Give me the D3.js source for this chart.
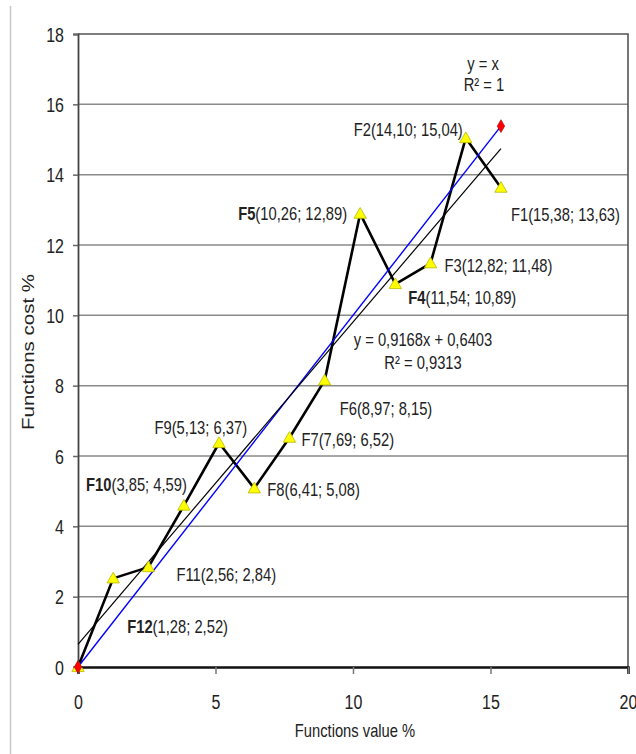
<!DOCTYPE html>
<html>
<head>
<meta charset="utf-8">
<script src="https://cdn.jsdelivr.net/npm/d3@7"></script>
<style>
  html, body { margin: 0; padding: 0; background: #fff; }
  svg { display: block; }
  text { font-family: "Liberation Sans", Arial, sans-serif; fill: #222; }
</style>
</head>
<body>
<svg id="chart" width="636" height="754"></svg>
<script>
// Functions: share of value (x) and share of cost (y), in percent
const functionNames = ["F1", "F2", "F3", "F4", "F5", "F6", "F7", "F8", "F9", "F10", "F11", "F12"];
const functionValue = [15.38, 14.10, 12.82, 11.54, 10.26, 8.97, 7.69, 6.41, 5.13, 3.85, 2.56, 1.28];
const functionCost  = [13.63, 15.04, 11.48, 10.89, 12.89, 8.15, 6.52, 5.08, 6.37, 4.59, 2.84, 2.52];
const boldNames = ["F4", "F5", "F10", "F12"];

// Linear trend of cost on value, and the ideal line y = x
const trendSlope = 0.9168;
const trendIntercept = 0.6403;
const trendR2 = 0.9313;
const idealEnd = 15.38;

const yTicks = [0, 2, 4, 6, 8, 10, 12, 14, 16, 18];
const xTicks = [0, 5, 10, 15, 20];

// Label placement relative to each point: [dx, dy, anchor]
const labelPlacement = {
  F1: [10, 27, "start"], F2: [-3, -8, "end"], F3: [14, 2, "start"], F4: [13, 14, "start"],
  F5: [-13, 0, "end"], F6: [15, 28, "start"], F7: [12, 2, "start"], F8: [13, 1, "start"],
  F9: [28, -15, "end"], F10: [3, -21, "end"], F11: [28, 8, "start"], F12: [14, 48, "start"]
};

const locale = d3.formatLocale({ decimal: ",", thousands: " ", grouping: [3], currency: ["", ""] });
const fmt2 = locale.format(".2f");
const fmt4 = locale.format(".4f");

// condensed lettering: regular face squeezed horizontally
const NARROW = 0.82;

const svg = d3.select("#chart");
const plot = { left: 78, right: 628, top: 34, bottom: 667 };

const x = d3.scaleLinear().domain([0, 20]).range([plot.left, plot.right]);
const y = d3.scaleLinear().domain([0, 18]).range([plot.bottom, plot.top]);

function narrowText(parent, px, py, anchor, size) {
  return parent.append("text")
    .attr("transform", `translate(${px},${py}) scale(${NARROW},1)`)
    .attr("dy", "0.35em").attr("text-anchor", anchor).attr("font-size", size);
}

// outer frame edge on the left
svg.append("line").attr("x1", 10.5).attr("x2", 10.5).attr("y1", 6).attr("y2", 754)
  .attr("stroke", "#c8c8c8").attr("stroke-width", 1.5);

// horizontal gridlines
svg.append("g").selectAll("line").data(yTicks.filter(v => v > 0 && v < 18)).join("line")
  .attr("x1", plot.left).attr("x2", plot.right)
  .attr("y1", d => y(d)).attr("y2", d => y(d))
  .attr("stroke", "#8a8a8a").attr("stroke-width", 1.5);

// top and right edges of the plot area
svg.append("path")
  .attr("d", `M${plot.left},${y(18)}H${plot.right}V${plot.bottom}`)
  .attr("fill", "none").attr("stroke", "#555").attr("stroke-width", 1.6);

// y axis
const yAxis = svg.append("g").attr("transform", `translate(${plot.left},0)`)
  .call(d3.axisLeft(y).tickValues(yTicks).tickSize(5).tickFormat(d3.format("d")));
yAxis.select(".domain").attr("stroke", "#444").attr("stroke-width", 1.8);
yAxis.selectAll(".tick line").attr("stroke", "#666").attr("stroke-width", 1.5);
yAxis.selectAll(".tick text")
  .attr("x", null).attr("dy", "0.36em")
  .attr("transform", `translate(-14,0) scale(${NARROW},1)`)
  .attr("font-size", 19.5).attr("fill", "#222")
  .style("font-family", "'Liberation Sans', Arial, sans-serif");

// x axis
const xAxis = svg.append("g").attr("transform", `translate(0,${plot.bottom})`)
  .call(d3.axisBottom(x).tickValues(xTicks).tickSize(7).tickFormat(d3.format("d")));
xAxis.select(".domain").attr("stroke", "#111").attr("stroke-width", 2.6);
xAxis.selectAll(".tick line").attr("stroke", "#777").attr("stroke-width", 1.5);
xAxis.selectAll(".tick text")
  .attr("y", null).attr("dy", "0.35em")
  .attr("transform", `translate(0,35) scale(${NARROW},1)`)
  .attr("font-size", 19.5).attr("fill", "#222")
  .style("font-family", "'Liberation Sans', Arial, sans-serif");

// axis titles
narrowText(svg, (plot.left + plot.right) / 2 + 2, 731, "middle", 18).text("Functions value %");
svg.append("text")
  .attr("transform", `translate(34,352) rotate(-90) scale(1,0.8)`)
  .attr("text-anchor", "middle").attr("font-size", 20.5)
  .text("Functions cost %");

// the series, ordered by value and starting at the origin
const points = functionNames.map((n, i) => ({ name: n, v: functionValue[i], c: functionCost[i] }));
const series = [{ name: null, v: 0, c: 0 }].concat(points.slice().sort((a, b) => a.v - b.v));

svg.append("path").datum(series)
  .attr("d", d3.line().x(d => x(d.v)).y(d => y(d.c)))
  .attr("fill", "none").attr("stroke", "#000").attr("stroke-width", 2.6).attr("stroke-linejoin", "round");

// ideal line y = x
svg.append("line")
  .attr("x1", x(0)).attr("y1", y(0)).attr("x2", x(idealEnd)).attr("y2", y(idealEnd))
  .attr("stroke", "#0000ff").attr("stroke-width", 1.4);

// linear trend
svg.append("line")
  .attr("x1", x(0)).attr("y1", y(trendIntercept))
  .attr("x2", x(idealEnd)).attr("y2", y(trendSlope * idealEnd + trendIntercept))
  .attr("stroke", "#000").attr("stroke-width", 1.2);

// triangle markers
const tri = d3.symbol().type(d3.symbolTriangle).size(66);
svg.append("g").selectAll("path").data(series).join("path")
  .attr("transform", d => `translate(${x(d.v)},${y(d.c) + 1})`)
  .attr("d", tri).attr("fill", "#ffff00").attr("stroke", "#b8b800").attr("stroke-width", 0.8);

// diamond markers at both ends of y = x
const dia = d3.symbol().type(d3.symbolDiamond).size(48);
svg.append("g").selectAll("path").data([0, idealEnd]).join("path")
  .attr("transform", d => `translate(${x(d)},${y(d)})`)
  .attr("d", dia).attr("fill", "#ff0000").attr("stroke", "#a00000").attr("stroke-width", 0.6);

// point labels
const labels = svg.append("g");
points.forEach(p => {
  const [dx, dy, anchor] = labelPlacement[p.name];
  const t = narrowText(labels, x(p.v) + dx, y(p.c) + dy, anchor, 18);
  t.append("tspan").attr("font-weight", boldNames.includes(p.name) ? "bold" : "normal").text(p.name);
  t.append("tspan").text(`(${fmt2(p.v)}; ${fmt2(p.c)})`);
});

// equations
const eq = svg.append("g");
narrowText(eq, 483, 64, "middle", 18).text("y = x");
narrowText(eq, 484, 85, "middle", 18).text("R² = 1");
narrowText(eq, 423, 340, "middle", 18).text(`y = ${fmt4(trendSlope)}x + ${fmt4(trendIntercept)}`);
narrowText(eq, 423, 363, "middle", 18).text(`R² = ${fmt4(trendR2)}`);
</script>
</body>
</html>
